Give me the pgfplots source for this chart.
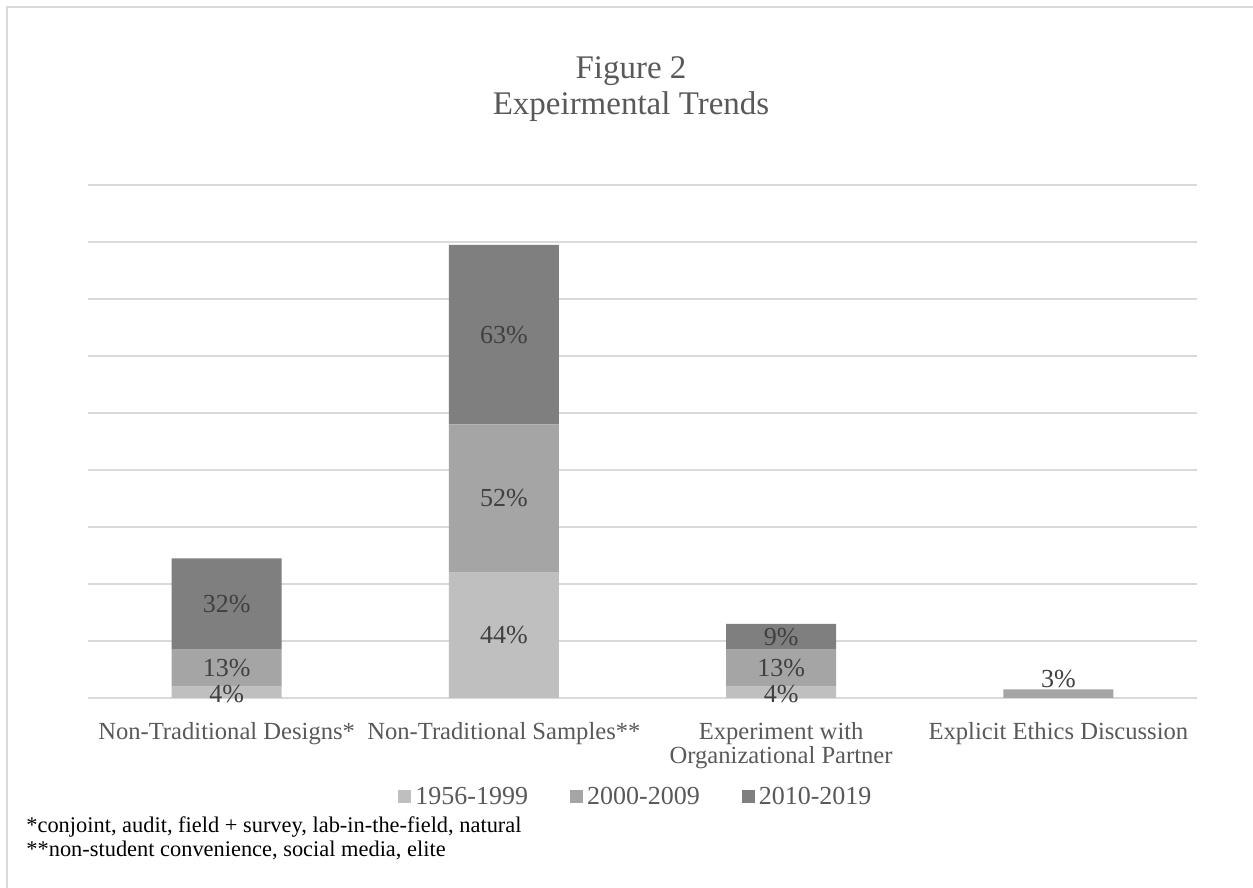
\documentclass[border=0pt]{standalone}
\usepackage{pgfplots}
\pgfplotsset{compat=1.18}
\usepackage{fontspec}
\setmainfont{Liberation Serif}
\definecolor{cA}{HTML}{BFBFBF}
\definecolor{cB}{HTML}{A5A5A5}
\definecolor{cC}{HTML}{7F7F7F}
\definecolor{gridc}{HTML}{D9D9D9}
\definecolor{txt}{HTML}{595959}
\definecolor{lab}{HTML}{404040}
\begin{document}
\begin{tikzpicture}
\useasboundingbox (0pt,0pt) rectangle (626.5pt,444pt);
\fill[white] (0pt,0pt) rectangle (626.5pt,444pt);
\draw[gridc, line width=0.9pt] (3.5pt,0pt) -- (3.5pt,440.5pt) -- (626.5pt,440.5pt);
\node[text=txt, font=\fontsize{16.5}{18}\selectfont] at (315.5pt,408.3pt) {Figure 2};
\node[text=txt, font=\fontsize{16.5}{18}\selectfont] at (315.5pt,390.8pt) {Expeirmental Trends};
\node[anchor=west, font=\fontsize{11.2}{12}\selectfont, inner sep=0pt] at (13pt,30.5pt) {*conjoint, audit, field + survey, lab-in-the-field, natural};
\node[anchor=west, font=\fontsize{11.2}{12}\selectfont, inner sep=0pt] at (13pt,19pt) {**non-student convenience, social media, elite};
\begin{axis}[
  at={(44pt,95pt)}, anchor=south west,
  scale only axis, width=554.5pt, height=256.5pt,
  xmin=-0.5, xmax=3.5, ymin=0, ymax=180,
  ybar stacked, bar width=55pt,
  axis y line*=left, y axis line style={draw=none},
  axis x line*=bottom,
  x axis line style={gridc, line width=0.9pt},
  ytick={0,20,...,180}, yticklabels={},
  ymajorgrids, grid style={gridc, line width=0.9pt},
  xtick={0,1,2,3},
  xticklabels={Non-Traditional Designs*, Non-Traditional Samples**, {Experiment with\\Organizational Partner}, Explicit Ethics Discussion},
  xticklabel style={align=center, text=txt, font=\fontsize{12.3}{11}\selectfont, yshift=-8.5pt},
  major tick length=0pt,
  legend style={at={(0.495,-0.193)}, anchor=center, draw=none, fill=none,
    legend columns=3, font=\fontsize{13}{14}\selectfont, text=txt,
    /tikz/every even column/.append style={column sep=19pt}},
  legend image code/.code={\fill[#1] (0pt,-3.2pt) rectangle (6.5pt,3.3pt);},
  clip=false,
]
\addplot[fill=cA, draw=none] coordinates {(0,4) (1,44) (2,4) (3,0)};
\addplot[fill=cB, draw=none] coordinates {(0,13) (1,52) (2,13) (3,3)};
\addplot[fill=cC, draw=none] coordinates {(0,32) (1,63) (2,9) (3,0)};
\legend{1956-1999, 2000-2009, 2010-2019}
\end{axis}
\begin{axis}[
  at={(44pt,95pt)}, anchor=south west,
  scale only axis, width=554.5pt, height=256.5pt,
  xmin=-0.5, xmax=3.5, ymin=0, ymax=180,
  hide axis, clip=false,
]
\addplot[draw=none, mark=none, nodes near coords, point meta=explicit symbolic,
  every node near coord/.append style={anchor=center, text=lab, font=\fontsize{13}{14}\selectfont}]
  table[meta=lab] {
x y lab
0 1.5 4\%
0 10.5 13\%
0 33 32\%
1 22 44\%
1 70 52\%
1 127.5 63\%
2 1.5 4\%
2 10.5 13\%
2 21.5 9\%
3 6.5 3\%
};
\end{axis}
\end{tikzpicture}
\end{document}
